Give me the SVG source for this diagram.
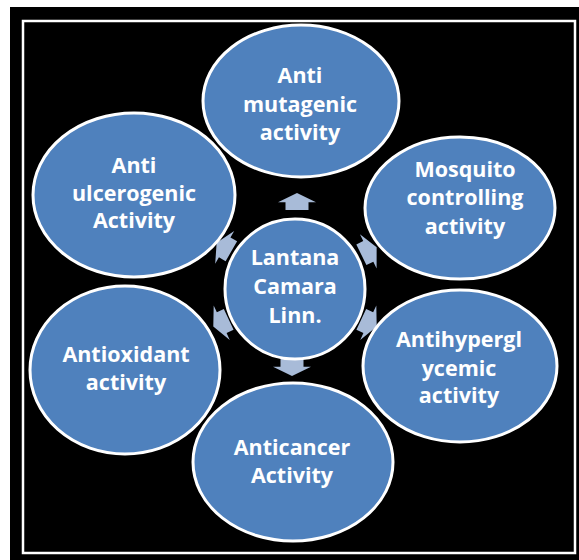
<svg xmlns="http://www.w3.org/2000/svg" width="579" height="560" viewBox="0 0 579 560">
  <defs>
    <style>
      .node { fill: #4f81bd; stroke: #ffffff; stroke-width: 3; }
      .arrow { fill: #a8bbd8; }
      .label { font-family: "Open Sans", "Liberation Sans", sans-serif; font-weight: bold; font-size: 21.5px; fill: #ffffff; text-anchor: middle; }
    </style>
    <path id="blockArrow" d="M0,-8.5 L19,0.8 L11.5,0.8 L11.5,8.5 L-11.5,8.5 L-11.5,0.8 L-19,0.8 Z"/>
  </defs>

  <rect x="0" y="0" width="579" height="560" fill="#ffffff"/>
  <rect x="10" y="7" width="569" height="553" fill="#000000"/>
  <rect x="23" y="21" width="552" height="532" fill="none" stroke="#ffffff" stroke-width="2.5"/>

  <g id="connectors">
    <use href="#blockArrow" class="arrow" transform="translate(297,201.5)"/>
    <use href="#blockArrow" class="arrow" transform="translate(369,251) rotate(64)"/>
    <use href="#blockArrow" class="arrow" transform="translate(369,323) rotate(115)"/>
    <use href="#blockArrow" class="arrow" transform="translate(292,367.5) rotate(180)"/>
    <use href="#blockArrow" class="arrow" transform="translate(221,323) rotate(-115)"/>
    <use href="#blockArrow" class="arrow" transform="translate(224,247) rotate(-60)"/>
  </g>

  <g id="node-mutagenic">
    <ellipse class="node" cx="301" cy="101" rx="98" ry="76"/>
    <text class="label" x="300" y="83">Anti</text>
    <text class="label" x="300" y="112">mutagenic</text>
    <text class="label" x="300" y="140">activity</text>
  </g>

  <g id="node-mosquito">
    <ellipse class="node" cx="460" cy="208" rx="95" ry="71"/>
    <text class="label" x="465" y="177">Mosquito</text>
    <text class="label" x="465" y="205">controlling</text>
    <text class="label" x="465" y="234">activity</text>
  </g>

  <g id="node-antihyperglycemic">
    <ellipse class="node" cx="460" cy="366" rx="97" ry="76"/>
    <text class="label" x="459" y="347">Antihypergl</text>
    <text class="label" x="459" y="376">ycemic</text>
    <text class="label" x="459" y="403">activity</text>
  </g>

  <g id="node-anticancer">
    <ellipse class="node" cx="293" cy="462" rx="100" ry="79"/>
    <text class="label" x="292" y="455">Anticancer</text>
    <text class="label" x="292" y="483">Activity</text>
  </g>

  <g id="node-antioxidant">
    <ellipse class="node" cx="125" cy="370" rx="95" ry="84"/>
    <text class="label" x="126" y="362">Antioxidant</text>
    <text class="label" x="126" y="390">activity</text>
  </g>

  <g id="node-ulcerogenic">
    <ellipse class="node" cx="134" cy="195" rx="101" ry="82"/>
    <text class="label" x="134" y="173">Anti</text>
    <text class="label" x="134" y="201">ulcerogenic</text>
    <text class="label" x="134" y="228">Activity</text>
  </g>

  <g id="node-center">
    <circle class="node" cx="295" cy="289" r="70"/>
    <text class="label" x="295" y="265">Lantana</text>
    <text class="label" x="295" y="294">Camara</text>
    <text class="label" x="295" y="323">Linn.</text>
  </g>
</svg>
